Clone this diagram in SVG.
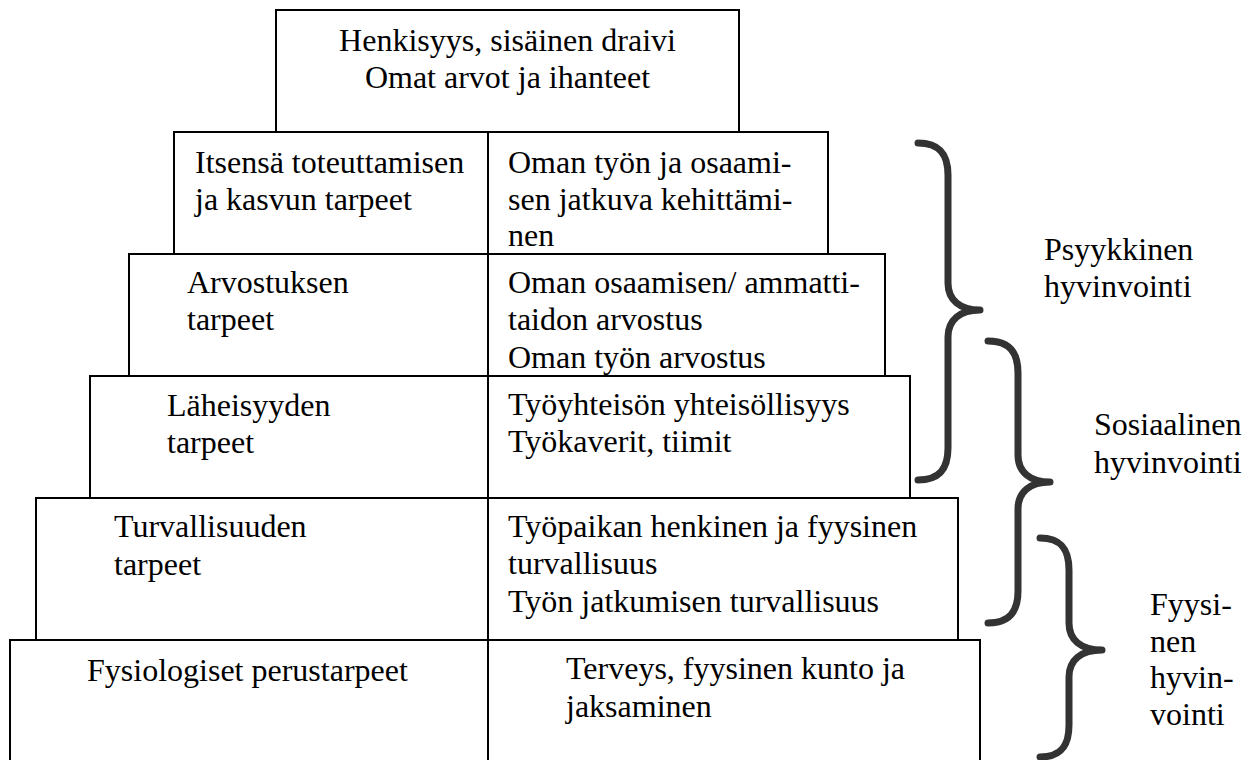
<svg xmlns="http://www.w3.org/2000/svg" width="1258" height="760" viewBox="0 0 1258 760">
<style>
.box{fill:#fff;stroke:#000;stroke-width:2}
.div{stroke:#000;stroke-width:2}
text{font-family:"Liberation Serif","Times New Roman",serif;font-size:32px;fill:#000}
.brace{fill:none;stroke:#333;stroke-width:7;stroke-linecap:round;stroke-linejoin:round}
</style>
<rect width="1258" height="760" fill="#fff"/>
<g id="tier1">
<rect class="box" x="276" y="10" width="463" height="122"/>
<text x="507.5" y="51" text-anchor="middle">Henkisyys, sisäinen draivi</text>
<text x="507.5" y="88" text-anchor="middle">Omat arvot ja ihanteet</text>
</g>
<g id="tier2">
<rect class="box" x="174" y="132" width="654" height="122"/>
<text x="195" y="173">Itsensä toteuttamisen</text>
<text x="195" y="210">ja kasvun tarpeet</text>
<text x="508" y="173">Oman työn ja osaami-</text>
<text x="508" y="210">sen jatkuva kehittämi-</text>
<text x="508" y="246">nen</text>
</g>
<g id="tier3">
<rect class="box" x="129" y="254" width="756" height="122"/>
<text x="187" y="293">Arvostuksen</text>
<text x="187" y="330">tarpeet</text>
<text x="508" y="293">Oman osaamisen/ ammatti-</text>
<text x="508" y="330">taidon arvostus</text>
<text x="508" y="368">Oman työn arvostus</text>
</g>
<g id="tier4">
<rect class="box" x="90" y="376" width="820" height="122"/>
<text x="167" y="416">Läheisyyden</text>
<text x="167" y="453">tarpeet</text>
<text x="508" y="415">Työyhteisön yhteisöllisyys</text>
<text x="508" y="452">Työkaverit, tiimit</text>
</g>
<g id="tier5">
<rect class="box" x="36" y="498" width="922" height="142"/>
<text x="114" y="537">Turvallisuuden</text>
<text x="114" y="575">tarpeet</text>
<text x="508" y="537">Työpaikan henkinen ja fyysinen</text>
<text x="508" y="574">turvallisuus</text>
<text x="508" y="612">Työn jatkumisen turvallisuus</text>
</g>
<g id="tier6">
<rect class="box" x="10" y="640" width="970" height="130"/>
<text x="87" y="681">Fysiologiset perustarpeet</text>
<text x="566" y="679">Terveys, fyysinen kunto ja</text>
<text x="566" y="717">jaksaminen</text>
</g>
<g id="connectors">
<line class="div" x1="488" y1="132" x2="488" y2="762"/>
<path class="brace" d="M918,143 C940,143 948,155 948,175 L948,283 C948,300 960,310 980,310 C960,310 948,320 948,337 L948,448 C948,468 940,480 918,480"/>
<path class="brace" d="M988,341 C1010,341 1018,353 1018,373 L1018,455 C1018,472 1030,482 1050,482 C1030,482 1018,492 1018,509 L1018,591 C1018,611 1010,623 988,623"/>
<path class="brace" d="M1040,538 C1062,538 1069,550 1069,570 L1069,623 C1069,640 1081,650 1102,650 C1081,650 1069,660 1069,677 L1069,725 C1069,745 1062,757 1040,757"/>
</g>
<g id="labels">
<text x="1044" y="260">Psyykkinen</text>
<text x="1044" y="297">hyvinvointi</text>
<text x="1094" y="435">Sosiaalinen</text>
<text x="1094" y="473">hyvinvointi</text>
<text x="1150" y="615">Fyysi-</text>
<text x="1150" y="652">nen</text>
<text x="1150" y="688">hyvin-</text>
<text x="1150" y="725">vointi</text>
</g>
</svg>
